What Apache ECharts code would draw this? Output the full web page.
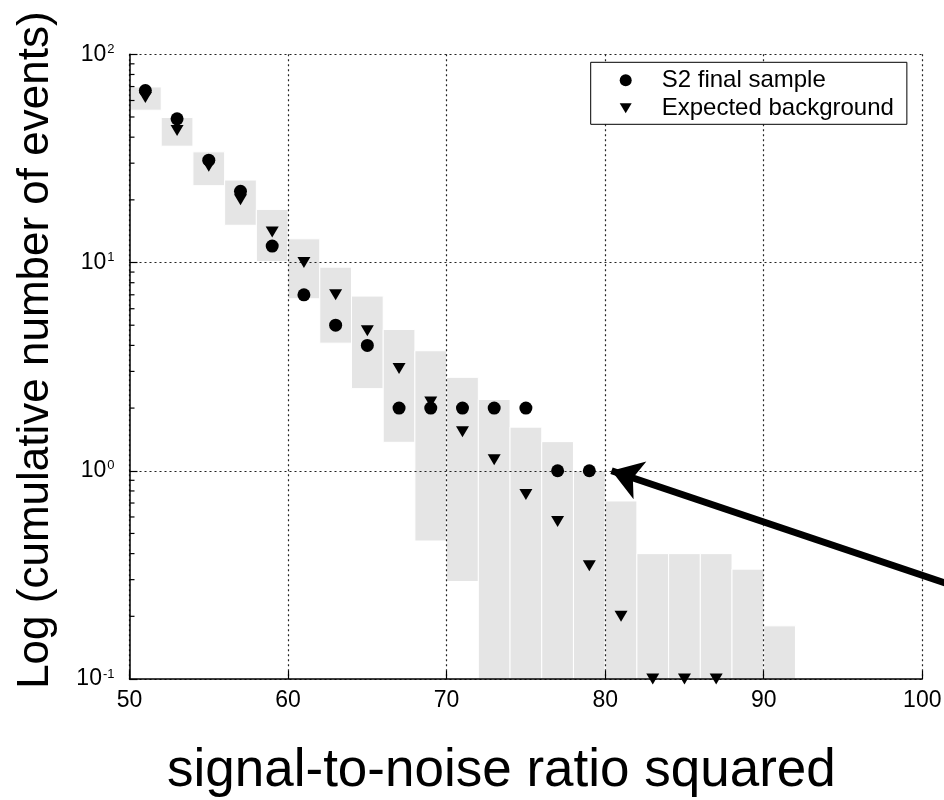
<!DOCTYPE html>
<html>
<head>
<meta charset="utf-8">
<title>Cumulative number of events</title>
<script src="https://cdn.jsdelivr.net/npm/echarts@6/dist/echarts.min.js"></script>
<style>
  html, body { margin: 0; padding: 0; background: #fff; }
  #chart { width: 944px; height: 800px; }
</style>
</head>
<body>
<div id="chart"></div>
<script>
// expected background band: bin edges and low / high bound per bin
const binEdges = [50, 52, 54, 56, 58, 60, 62, 64, 66, 68, 70, 72, 74, 76, 78, 80, 82, 84, 86, 88, 90, 92]
const bandLow = [53.9, 36.2, 23.4, 15.1, 10.1, 6.7, 4.1, 2.48, 1.37, 0.46, 0.294, 0.1, 0.1, 0.1, 0.1, 0.1, 0.1, 0.1, 0.1, 0.1, 0.1]
const bandHigh = [69.7, 49.7, 34.0, 24.9, 18.0, 13.0, 9.5, 6.9, 4.77, 3.77, 2.81, 2.2, 1.62, 1.38, 1.0, 0.716, 0.4, 0.4, 0.4, 0.337, 0.18]

// S2 final sample
const sampleX = [51, 53, 55, 57, 59, 61, 63, 65, 67, 69, 71, 73, 75, 77, 79]
const sampleY = [67, 49, 31, 22, 12, 7, 5, 4, 2, 2, 2, 2, 2, 1, 1]

// expected background
const backgroundX = [51, 53, 55, 57, 59, 61, 63, 65, 67, 69, 71, 73, 75, 77, 79, 81, 83, 85, 87]
const backgroundY = [62, 43, 29, 20, 14, 10, 7, 4.7, 3.1, 2.14, 1.54, 1.13, 0.77, 0.57, 0.35, 0.2, 0.1, 0.1, 0.1]

// log axis minor ticks (2..9 in each decade)
const minorTickValues = [0.2, 0.3, 0.4, 0.5, 0.6, 0.7, 0.8, 0.9, 2, 3, 4, 5, 6, 7, 8, 9, 20, 30, 40, 50, 60, 70, 80, 90]

// arrow annotation: tip next to the last S2 point, tail leaves the plot
const arrowHead = [80.4, 1]
const arrowTail = { x: 960, y: 588 }

const FONT = 'Liberation Sans, Arial, Helvetica, sans-serif'
const X_MIN = 50
const DOWN_TRIANGLE = 'path://M0,0L12,0L6,10Z'

const chart = echarts.init(document.getElementById('chart'), null, { renderer: 'canvas' })

const option = {
  backgroundColor: '#fff',
  animation: false,
  grid: {
    left: 129.5,
    right: 21.7,
    top: 54.3,
    bottom: 121,
    outerBoundsMode: 'none'
  },
  legend: {
    data: [
      { name: 'S2 final sample', icon: 'circle' },
      { name: 'Expected background', icon: DOWN_TRIANGLE }
    ],
    orient: 'vertical',
    left: 590.7,
    top: 62.3,
    padding: [6, 13, 4, 29],
    itemGap: 4,
    itemWidth: 12,
    itemHeight: 12,
    symbolRotate: 0,
    backgroundColor: '#fff',
    borderColor: '#000',
    borderWidth: 1,
    borderRadius: 0,
    itemStyle: { opacity: 1 },
    textStyle: {
      fontFamily: FONT,
      fontSize: 24,
      lineHeight: 24,
      color: '#000',
      padding: [0, 0, 0, 25]
    }
  },
  xAxis: {
    type: 'value',
    min: 50,
    max: 100,
    interval: 10,
    name: 'signal-to-noise ratio squared',
    nameLocation: 'middle',
    nameGap: 66,
    nameTextStyle: {
      fontFamily: FONT,
      fontSize: 53,
      color: '#000',
      padding: [0, 49, 0, 0]
    },
    axisLine: { show: true, onZero: false, lineStyle: { color: '#000', width: 1.5 } },
    axisTick: { show: true, inside: true, length: 8, lineStyle: { color: '#000', width: 1.2 } },
    axisLabel: { fontFamily: FONT, fontSize: 23, color: '#000', margin: 10 },
    splitLine: { show: true, lineStyle: { color: '#222', width: 1.2, type: [2, 3] } }
  },
  yAxis: {
    type: 'log',
    logBase: 10,
    min: 0.1,
    max: 100,
    name: 'Log (cumulative number of events)',
    nameLocation: 'middle',
    nameGap: 72,
    nameTextStyle: {
      fontFamily: FONT,
      fontSize: 44,
      color: '#000',
      padding: [0, 0, 0, 33]
    },
    axisLine: { show: true, onZero: false, lineStyle: { color: '#000', width: 1.5 } },
    axisTick: { show: true, inside: true, length: 8, lineStyle: { color: '#000', width: 1.2 } },
    axisLabel: {
      margin: 15,
      formatter: function (v) {
        const e = Math.round(Math.log10(v))
        return '{base|10}{sup|' + e + '}'
      },
      rich: {
        base: { fontFamily: FONT, fontSize: 23, lineHeight: 23, color: '#000', verticalAlign: 'bottom' },
        sup: { fontFamily: FONT, fontSize: 13, lineHeight: 13, color: '#000', verticalAlign: 'top', padding: [0, 0, 16, 1] }
      }
    },
    splitLine: { show: true, lineStyle: { color: '#222', width: 1.2, type: [2, 3] } }
  },
  series: [
    {
      name: 'band',
      type: 'custom',
      z: -1,
      silent: true,
      encode: { x: [0, 1], y: [2, 3] },
      data: bandLow.map((lo, i) => [binEdges[i], binEdges[i + 1], lo, bandHigh[i]]),
      renderItem: function (params, api) {
        const p0 = api.coord([api.value(0), api.value(3)])
        const p1 = api.coord([api.value(1), api.value(2)])
        return {
          type: 'rect',
          shape: { x: p0[0], y: p0[1], width: p1[0] - p0[0], height: p1[1] - p0[1] },
          style: { fill: '#e5e5e5', stroke: '#fff', lineWidth: 1 }
        }
      }
    },
    {
      name: 'minorTicks',
      type: 'custom',
      silent: true,
      data: minorTickValues.map(v => [X_MIN, v]),
      renderItem: function (params, api) {
        const p = api.coord([api.value(0), api.value(1)])
        return {
          type: 'line',
          shape: { x1: p[0], y1: p[1], x2: p[0] + 5, y2: p[1] },
          style: { stroke: '#000', lineWidth: 1.2 }
        }
      }
    },
    {
      name: 'Expected background',
      type: 'scatter',
      symbol: 'triangle',
      symbolRotate: 180,
      symbolSize: [13, 11],
      itemStyle: { color: '#000', opacity: 1 },
      data: backgroundX.map((x, i) => [x, backgroundY[i]])
    },
    {
      name: 'S2 final sample',
      type: 'scatter',
      symbol: 'circle',
      symbolSize: 13,
      itemStyle: { color: '#000', opacity: 1 },
      data: sampleX.map((x, i) => [x, sampleY[i]]),
      markLine: {
        silent: true,
        symbol: ['arrow', 'none'],
        symbolSize: 30,
        label: { show: false },
        itemStyle: { color: '#000' },
        lineStyle: { color: '#000', width: 7, type: 'solid', opacity: 1 },
        data: [[{ coord: arrowHead }, arrowTail]]
      }
    }
  ]
}

chart.setOption(option)
</script>
</body>
</html>
